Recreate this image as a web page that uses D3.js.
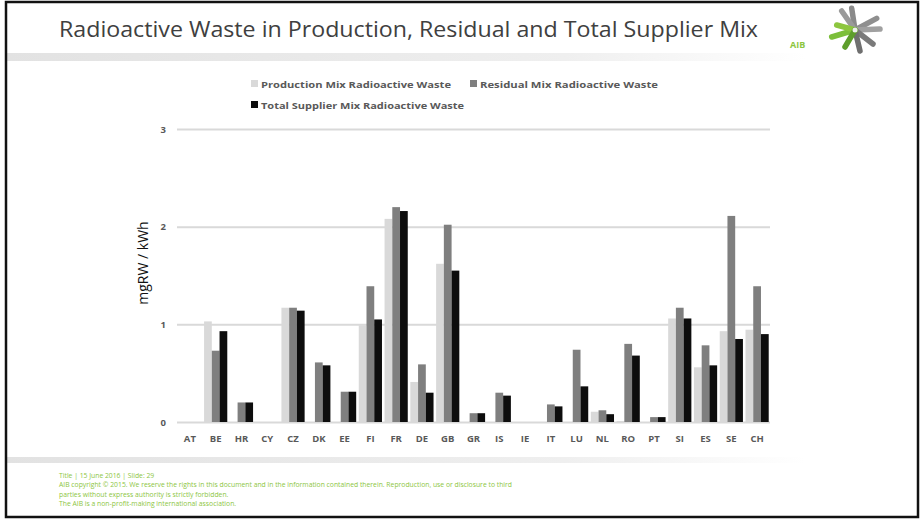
<!DOCTYPE html>
<html>
<head>
<meta charset="utf-8">
<script src="https://cdn.jsdelivr.net/npm/d3@7"></script>
<style>
  body { margin: 0; background: #fff; }
  svg { display: block; font-family: "Open Sans", "Noto Sans", sans-serif; }
</style>
</head>
<body>
<svg width="921" height="520"></svg>
<script>
// chart data
var categories = ["AT", "BE", "HR", "CY", "CZ", "DK", "EE", "FI", "FR", "DE", "GB", "GR",
                  "IS", "IE", "IT", "LU", "NL", "RO", "PT", "SI", "ES", "SE", "CH"];
var production = [0, 1.03, 0, 0, 1.17, 0, 0, 0.99, 2.08, 0.41, 1.62, 0,
                  0, 0, 0, 0, 0.105, 0.01, 0, 1.06, 0.56, 0.93, 0.945];
var residual   = [0, 0.73, 0.20, 0, 1.17, 0.61, 0.31, 1.39, 2.20, 0.59, 2.02, 0.09,
                  0.30, 0, 0.18, 0.74, 0.12, 0.80, 0.05, 1.17, 0.785, 2.11, 1.39];
var total      = [0, 0.93, 0.20, 0, 1.14, 0.58, 0.31, 1.05, 2.16, 0.30, 1.55, 0.09,
                  0.27, 0, 0.16, 0.365, 0.08, 0.68, 0.05, 1.06, 0.58, 0.85, 0.90];
var seriesNames = ["Production Mix Radioactive Waste", "Residual Mix Radioactive Waste",
                   "Total Supplier Mix Radioactive Waste"];
var seriesColors = ["#d9d9d9", "#7f7f7f", "#0d0d0d"];
var yTicks = [0, 1, 2, 3];

var footerLines = [
  "Title | 15 June 2016 | Slide: 29",
  "AIB copyright \u00a9 2015. We reserve the rights in this document and in the information contained therein. Reproduction, use or disclosure to third",
  "parties without express authority is strictly forbidden.",
  "The AIB is a non-profit-making international association."
];

var svg = d3.select("svg");

// slide frame + header / footer bands
var defs = svg.append("defs");
var grad = defs.append("linearGradient").attr("id", "band");
grad.append("stop").attr("offset", "0%").attr("stop-color", "#e2e2e2");
grad.append("stop").attr("offset", "70%").attr("stop-color", "#efefef");
grad.append("stop").attr("offset", "100%").attr("stop-color", "#ffffff");

svg.append("rect").attr("x", 6).attr("y", 53).attr("width", 800).attr("height", 8).attr("fill", "url(#band)");
svg.append("rect").attr("x", 6).attr("y", 457).attr("width", 800).attr("height", 6).attr("fill", "url(#band)");

svg.append("rect")
    .attr("x", 6).attr("y", 2).attr("width", 912).attr("height", 515)
    .attr("fill", "none").attr("stroke", "#111").attr("stroke-width", 2.5);

svg.append("text")
    .attr("x", 59).attr("y", 37)
    .attr("font-size", 22).attr("fill", "#404040")
    .attr("textLength", 699).attr("lengthAdjust", "spacingAndGlyphs")
    .text("Radioactive Waste in Production, Residual and Total Supplier Mix");

// AIB logo
var logo = svg.append("g").attr("stroke-linecap", "round");
var rays = [
  [851.7, 8.3, "#8a8a8a"], [841.7, 11, "#9a9a9a"], [876.7, 18.3, "#8f8f8f"],
  [880, 29, "#a0a0a0"], [873, 44, "#7a7a7a"], [860, 51, "#6f6f6f"],
  [831.7, 37, "#7cbf3a"], [836.7, 25, "#8dc63f"], [845, 47, "#5e9e2c"]
];
rays.forEach(function(r) {
  logo.append("line")
      .attr("x1", 855).attr("y1", 30).attr("x2", r[0]).attr("y2", r[1])
      .attr("stroke", r[2]).attr("stroke-width", 5.5);
});
logo.append("circle").attr("cx", 855).attr("cy", 30).attr("r", 2.5).attr("fill", "#eee");
svg.append("text")
    .attr("x", 790).attr("y", 48)
    .attr("font-size", 9).attr("font-weight", "bold").attr("fill", "#8dc63f")
    .text("AIB");

// chart
var x0 = d3.scaleBand().domain(categories).range([177, 770]).paddingInner(0.1).paddingOuter(0.05);
var x1 = d3.scaleBand().domain([0, 1, 2]).range([0, x0.bandwidth()]);
var y = d3.scaleLinear().domain([0, 3]).range([422, 129]);

var yAxis = svg.append("g")
    .attr("transform", "translate(177,0)")
    .call(d3.axisLeft(y).tickValues(yTicks).tickSize(-593).tickFormat(d3.format("d")));
yAxis.select(".domain").remove();
yAxis.selectAll(".tick line").attr("stroke", "#d9d9d9").attr("stroke-width", 2);
yAxis.selectAll(".tick text")
    .attr("x", -11).attr("font-size", 9.5).attr("font-weight", "bold")
    .attr("fill", "#595959").attr("font-family", "Open Sans, sans-serif");

var series = [production, residual, total];
var groups = svg.append("g").selectAll("g")
    .data(categories)
    .enter().append("g")
    .attr("transform", function(d) { return "translate(" + x0(d) + ",0)"; });

groups.selectAll("rect")
    .data(function(d, i) { return series.map(function(s, k) { return { k: k, v: s[i] }; }); })
    .enter().append("rect")
    .attr("x", function(d) { return x1(d.k); })
    .attr("width", x1.bandwidth())
    .attr("y", function(d) { return y(d.v); })
    .attr("height", function(d) { return y(0) - y(d.v); })
    .attr("fill", function(d) { return seriesColors[d.k]; });

var xAxis = svg.append("g")
    .attr("transform", "translate(0,422)")
    .call(d3.axisBottom(x0).tickSize(0).tickPadding(13));
xAxis.select(".domain").remove();
xAxis.selectAll(".tick text")
    .attr("font-size", 9.5).attr("font-weight", "bold")
    .attr("fill", "#595959").attr("font-family", "Open Sans, sans-serif");

svg.append("text")
    .attr("transform", "translate(148,263) rotate(-90)")
    .attr("text-anchor", "middle")
    .attr("font-size", 14).attr("fill", "#111")
    .text("mgRW / kWh");

// legend
var legendPos = [[251, 84], [470, 84], [251, 105]];
var legendWidths = [190, 178, 203];
var legend = svg.append("g").selectAll("g")
    .data(seriesNames)
    .enter().append("g")
    .attr("transform", function(d, i) { return "translate(" + legendPos[i][0] + "," + legendPos[i][1] + ")"; });
legend.append("rect")
    .attr("x", 0).attr("y", -4).attr("width", 7).attr("height", 7)
    .attr("fill", function(d, i) { return seriesColors[i]; });
legend.append("text")
    .attr("x", 10).attr("y", 3.5)
    .attr("font-size", 9.5).attr("font-weight", "bold").attr("fill", "#595959")
    .attr("textLength", function(d, i) { return legendWidths[i]; })
    .attr("lengthAdjust", "spacingAndGlyphs")
    .text(function(d) { return d; });

// footer
svg.append("g").selectAll("text")
    .data(footerLines)
    .enter().append("text")
    .attr("x", 59)
    .attr("y", function(d, i) { return 477.5 + i * 9.5; })
    .attr("font-size", 6.8).attr("fill", "#8dc63f")
    .text(function(d) { return d; });
</script>
</body>
</html>
